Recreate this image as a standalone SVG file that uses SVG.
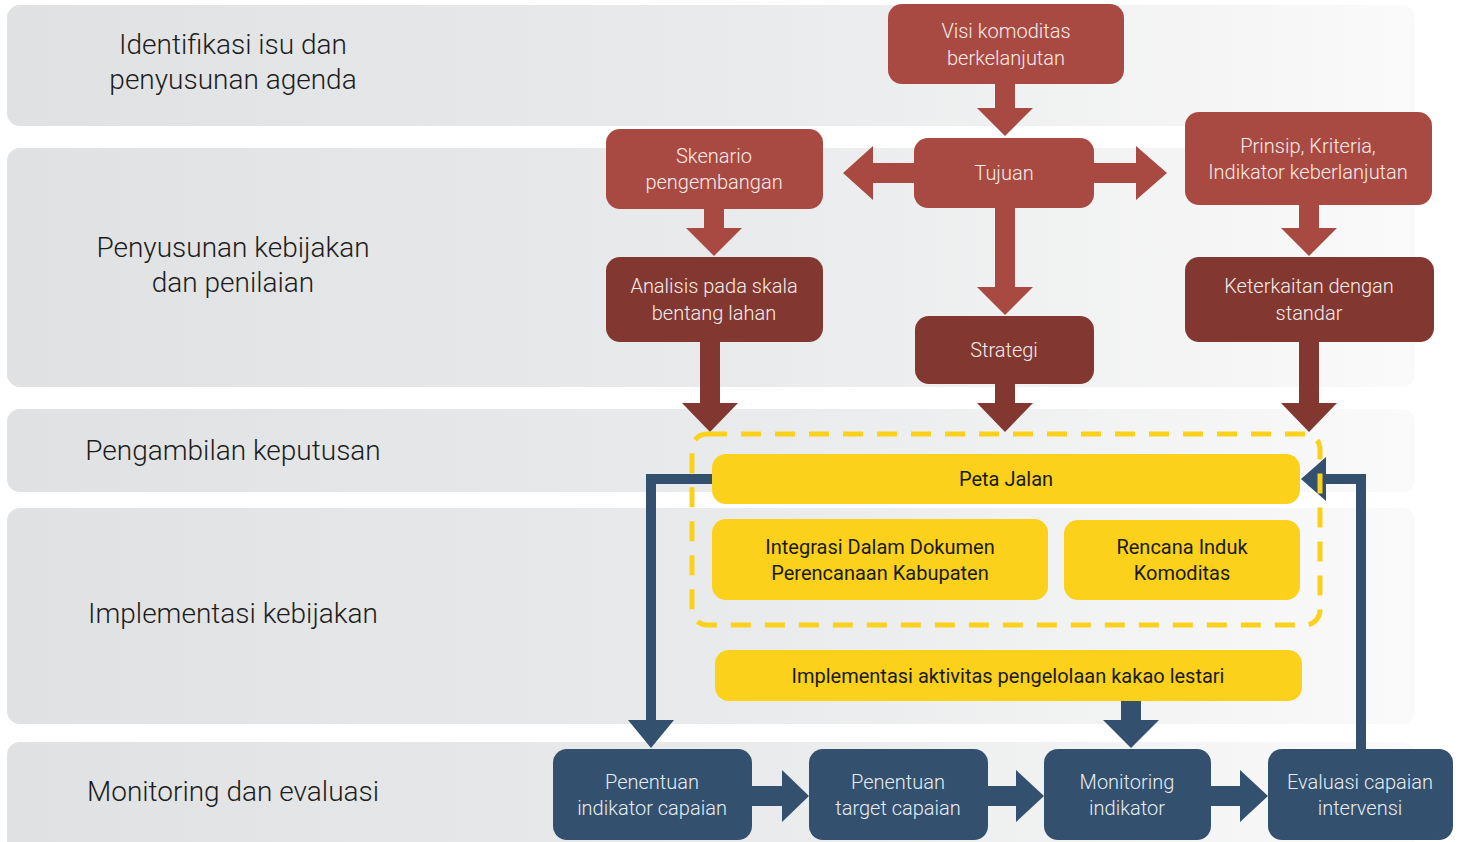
<svg xmlns="http://www.w3.org/2000/svg" width="1460" height="842" viewBox="0 0 1460 842">
<defs>
<linearGradient id="bandg" x1="0" y1="0" x2="1" y2="0">
<stop offset="0" stop-color="#e0e1e3"/>
<stop offset="0.55" stop-color="#eaebec"/>
<stop offset="1" stop-color="#fafafa"/>
</linearGradient>
</defs>
<style>
.band{fill:url(#bandg);}
.lbl{font-family:Roboto,"Liberation Sans",sans-serif;font-weight:300;font-size:28px;fill:#1c1c1c;text-anchor:middle;}
.nt{font-family:Roboto,"Liberation Sans",sans-serif;font-weight:300;font-size:20px;text-anchor:middle;}
.red{fill:#a94a42;}
.dred{fill:#823830;}
.yel{fill:#fbd11b;}
.blu{fill:#33506e;}
.wt{fill:#f8ecea;}
.bt{fill:#1a1a1a;font-weight:400;}
.lt{fill:#e6edf4;}
.dash{fill:none;stroke:#fbd11b;stroke-width:5;stroke-dasharray:20 14;}
.fb{fill:none;stroke:#33506e;stroke-width:10;stroke-linejoin:miter;}
</style>
<rect width="1460" height="842" fill="#ffffff"/>
<g id="bands">
<rect class="band" x="7" y="5" width="1408" height="121" rx="13"/>
<rect class="band" x="7" y="148" width="1408" height="239" rx="13"/>
<rect class="band" x="7" y="409" width="1408" height="83" rx="13"/>
<rect class="band" x="7" y="508" width="1408" height="216" rx="13"/>
<rect class="band" x="7" y="742" width="1408" height="120" rx="13"/>
<text class="lbl" x="233" y="54">Identifikasi isu dan</text>
<text class="lbl" x="233" y="89">penyusunan agenda</text>
<text class="lbl" x="233" y="257">Penyusunan kebijakan</text>
<text class="lbl" x="233" y="292">dan penilaian</text>
<text class="lbl" x="233" y="460">Pengambilan keputusan</text>
<text class="lbl" x="233" y="623">Implementasi kebijakan</text>
<text class="lbl" x="233" y="801">Monitoring dan evaluasi</text>
</g>
<g id="connectors">
<polygon class="red" points="995,84 1015,84 1015,108 1033,108 1005,136 977,108 995,108"/>
<polygon class="red" points="914,163 873,163 873,146 843,173 873,200 873,183 914,183"/>
<polygon class="red" points="1094,163 1136,163 1136,146 1167,173 1136,200 1136,183 1094,183"/>
<polygon class="red" points="995,208 1015,208 1015,287 1033,287 1005,315 977,287 995,287"/>
<polygon class="red" points="704,209 724,209 724,228 742,228 714,256 686,228 704,228"/>
<polygon class="red" points="1299,205 1319,205 1319,228 1337,228 1309,256 1281,228 1299,228"/>
<polygon class="dred" points="700,342 720,342 720,403 738,403 710,432 682,403 700,403"/>
<polygon class="dred" points="995,384 1015,384 1015,403 1033,403 1005,432 977,403 995,403"/>
<polygon class="dred" points="1299,342 1319,342 1319,403 1337,403 1309,432 1281,403 1299,403"/>
<polyline class="fb" points="712,479 651,479 651,722"/>
<polygon class="blu" points="628,720 674,720 651,748"/>
<polyline class="fb" points="1361,749 1361,479 1324,479"/>
<polygon class="blu" points="1326,457 1326,501 1301,479"/>
<polygon class="blu" points="1121,701 1141,701 1141,720 1159,720 1131,748 1103,720 1121,720"/>
<polygon class="blu" points="752,786 782,786 782,770 809,796 782,822 782,806 752,806"/>
<polygon class="blu" points="988,786 1016,786 1016,770 1044,796 1016,822 1016,806 988,806"/>
<polygon class="blu" points="1211,786 1240,786 1240,770 1268,796 1240,822 1240,806 1211,806"/>
</g>
<g id="n-visi"><rect class="red" x="888" y="4" width="236" height="80" rx="14"/><text class="nt wt" x="1006" y="38">Visi komoditas</text><text class="nt wt" x="1006" y="65">berkelanjutan</text></g>
<g id="n-tujuan"><rect class="red" x="914" y="138" width="180" height="70" rx="14"/><text class="nt wt" x="1004" y="180">Tujuan</text></g>
<g id="n-skenario"><rect class="red" x="606" y="129" width="217" height="80" rx="14"/><text class="nt wt" x="714" y="163">Skenario</text><text class="nt wt" x="714" y="189">pengembangan</text></g>
<g id="n-prinsip"><rect class="red" x="1185" y="112" width="247" height="93" rx="14"/><text class="nt wt" x="1308" y="153">Prinsip, Kriteria,</text><text class="nt wt" x="1308" y="179">Indikator keberlanjutan</text></g>
<g id="n-analisis"><rect class="dred" x="606" y="257" width="217" height="85" rx="14"/><text class="nt wt" x="714" y="293">Analisis pada skala</text><text class="nt wt" x="714" y="320">bentang lahan</text></g>
<g id="n-strategi"><rect class="dred" x="915" y="316" width="179" height="68" rx="14"/><text class="nt wt" x="1004" y="357">Strategi</text></g>
<g id="n-keterkaitan"><rect class="dred" x="1185" y="257" width="249" height="85" rx="14"/><text class="nt wt" x="1309" y="293">Keterkaitan dengan</text><text class="nt wt" x="1309" y="320">standar</text></g>
<g id="n-group"><rect class="dash" x="692" y="434" width="628" height="191" rx="15"/></g>
<g id="n-peta"><rect class="yel" x="712" y="454" width="588" height="50" rx="14"/><text class="nt bt" x="1006" y="486">Peta Jalan</text></g>
<g id="n-integrasi"><rect class="yel" x="712" y="519" width="336" height="81" rx="14"/><text class="nt bt" x="880" y="554">Integrasi Dalam Dokumen</text><text class="nt bt" x="880" y="580">Perencanaan Kabupaten</text></g>
<g id="n-rencana"><rect class="yel" x="1064" y="520" width="236" height="80" rx="14"/><text class="nt bt" x="1182" y="554">Rencana Induk</text><text class="nt bt" x="1182" y="580">Komoditas</text></g>
<g id="n-impl"><rect class="yel" x="715" y="650" width="587" height="51" rx="14"/><text class="nt bt" x="1008" y="683">Implementasi aktivitas pengelolaan kakao lestari</text></g>
<g id="n-pind"><rect class="blu" x="553" y="749" width="199" height="91" rx="14"/><text class="nt lt" x="652" y="789">Penentuan</text><text class="nt lt" x="652" y="815">indikator capaian</text></g>
<g id="n-ptar"><rect class="blu" x="809" y="749" width="179" height="91" rx="14"/><text class="nt lt" x="898" y="789">Penentuan</text><text class="nt lt" x="898" y="815">target capaian</text></g>
<g id="n-mon"><rect class="blu" x="1044" y="749" width="167" height="91" rx="14"/><text class="nt lt" x="1127" y="789">Monitoring</text><text class="nt lt" x="1127" y="815">indikator</text></g>
<g id="n-eval"><rect class="blu" x="1268" y="749" width="185" height="91" rx="14"/><text class="nt lt" x="1360" y="789">Evaluasi capaian</text><text class="nt lt" x="1360" y="815">intervensi</text></g>
</svg>
